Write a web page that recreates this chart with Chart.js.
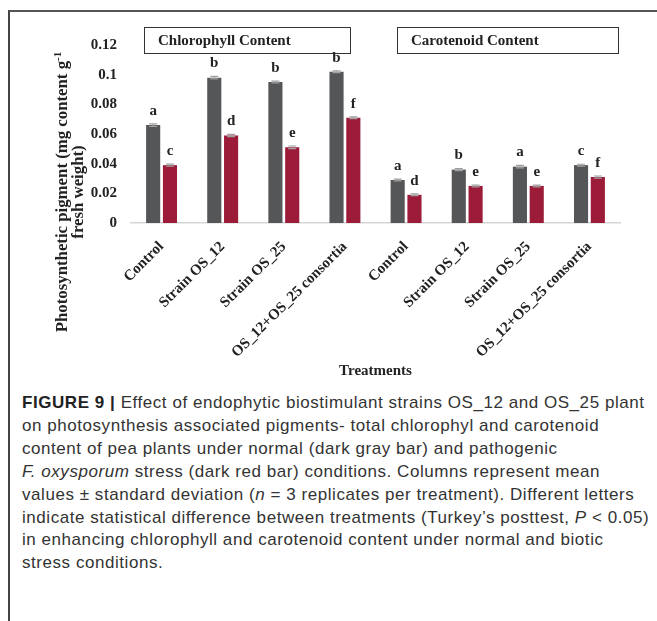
<!DOCTYPE html>
<html>
<head>
<meta charset="utf-8">
<script src="https://cdn.jsdelivr.net/npm/chart.js@4.4.0/dist/chart.umd.min.js"></script>
<style>
  html, body { margin: 0; padding: 0; background: #fff; }
  #wrap { position: relative; width: 657px; height: 621px; overflow: hidden; }
  #frame { position: absolute; left: 8px; top: 10px; width: 660px; height: 620px;
           border-left: 2px solid #444; border-top: 2px solid #555; }
  #chartBox { position: absolute; left: 0; top: 0; width: 657px; height: 390px; }
  .panel { position: absolute; top: 27px; height: 25px; border: 1.5px solid #333;
           font: bold 15px "Liberation Serif", serif; color: #222; line-height: 25px;
           box-sizing: content-box; }
  #ytitle { position: absolute; left: -80px; top: 176px; width: 300px; height: 32px;
            transform: rotate(-90deg); text-align: center; color: #222;
            font: bold 16.8px "Liberation Serif", serif; line-height: 16px; white-space: nowrap; }
  #ytitle sup { font-size: 11px; vertical-align: 6px; line-height: 0; }
  #caption { position: absolute; left: 22px; top: 392px; width: 640px; white-space: nowrap;
             font: 17px "Liberation Sans", Arial, sans-serif; letter-spacing: 0.55px;
             line-height: 22.9px; color: #333; }
  #caption b { color: #222; }
</style>
</head>
<body>
<div id="wrap">
  <div id="frame"></div>
  <div id="chartBox"><canvas id="pigChart" width="657" height="390"></canvas></div>
  <div class="panel" style="left:144px;width:192px;padding-left:13px;">Chlorophyll Content</div>
  <div class="panel" style="left:397px;width:207px;padding-left:13px;">Carotenoid Content</div>
  <div id="ytitle">Photosynthetic pigment (mg content g<sup>-1</sup><br>fresh weight)</div>
  <div id="caption"><b>FIGURE 9 |</b> Effect of endophytic biostimulant strains OS_12 and OS_25 plant<br>
on photosynthesis associated pigments- total chlorophyl and carotenoid<br>
content of pea plants under normal (dark gray bar) and pathogenic<br>
<i>F. oxysporum</i> stress (dark red bar) conditions. Columns represent mean<br>
values &plusmn; standard deviation (<i>n</i> = 3 replicates per treatment). Different letters<br>
indicate statistical difference between treatments (Turkey&rsquo;s posttest, <i>P</i> &lt; 0.05)<br>
in enhancing chlorophyll and carotenoid content under normal and biotic<br>
stress conditions.</div>
</div>
<script>
// data
const tratamientos = ['Control', 'Strain OS_12', 'Strain OS_25', 'OS_12+OS_25 consortia',
                      'Control', 'Strain OS_12', 'Strain OS_25', 'OS_12+OS_25 consortia'];
const normal = [0.066, 0.098, 0.095, 0.102, 0.029, 0.036, 0.038, 0.039];
const estres = [0.039, 0.059, 0.051, 0.071, 0.019, 0.025, 0.025, 0.031];
const sdNormal = [0.0008, 0.0008, 0.0006, 0.0006, 0.0006, 0.0007, 0.0008, 0.0006];
const sdEstres = [0.0007, 0.0008, 0.0009, 0.0006, 0.0006, 0.0006, 0.0006, 0.0007];
const letrasNormal = ['a', 'b', 'b', 'b', 'a', 'b', 'a', 'c'];
const letrasEstres = ['c', 'd', 'e', 'f', 'd', 'e', 'e', 'f'];
const yTicks = [0, 0.02, 0.04, 0.06, 0.08, 0.1, 0.12];

const serifBold = { family: '"Liberation Serif", "Times New Roman", serif', weight: 'bold', size: 15 };

// error bars + significance letters
const extras = {
    id: 'extras',
    afterDatasetsDraw(chart) {
        const ctx = chart.ctx;
        const y = chart.scales.y;
        const sds = [sdNormal, sdEstres];
        const letras = [letrasNormal, letrasEstres];
        chart.data.datasets.forEach(function(ds, di) {
            const meta = chart.getDatasetMeta(di);
            meta.data.forEach(function(bar, i) {
                const v = ds.data[i];
                const top = y.getPixelForValue(v + sds[di][i]);
                const bot = y.getPixelForValue(v - sds[di][i]);
                ctx.save();
                ctx.strokeStyle = '#a0a0a0';
                ctx.lineWidth = 1.2;
                ctx.beginPath();
                ctx.moveTo(bar.x, top); ctx.lineTo(bar.x, bot);
                ctx.moveTo(bar.x - 4, top); ctx.lineTo(bar.x + 4, top);
                ctx.moveTo(bar.x - 4, bot); ctx.lineTo(bar.x + 4, bot);
                ctx.stroke();
                ctx.fillStyle = '#222';
                ctx.font = 'bold 15px "Liberation Serif", serif';
                ctx.textAlign = 'center';
                ctx.textBaseline = 'middle';
                ctx.fillText(letras[di][i], bar.x, top - 13);
                ctx.restore();
            });
        });
    }
};

const ctx = document.getElementById('pigChart').getContext('2d');
const pigChart = new Chart(ctx, {
    type: 'bar',
    data: {
        labels: tratamientos,
        datasets: [{
            label: 'Normal',
            data: normal,
            backgroundColor: '#555658',
            categoryPercentage: 0.55,
            barPercentage: 0.84
        }, {
            label: 'F. oxysporum',
            data: estres,
            backgroundColor: '#9c1b38',
            categoryPercentage: 0.55,
            barPercentage: 0.84
        }]
    },
    options: {
        responsive: false,
        animation: false,
        devicePixelRatio: 1,
        layout: { padding: { left: 54, top: 45, right: 37, bottom: 0 } },
        plugins: {
            legend: { display: false },
            tooltip: { enabled: false }
        },
        scales: {
            x: {
                grid: { display: false },
                border: { display: true, color: '#d6d6d6', width: 1.5 },
                ticks: {
                    minRotation: 45,
                    maxRotation: 45,
                    padding: 7,
                    color: '#222',
                    font: serifBold
                },
                title: {
                    display: true,
                    text: 'Treatments',
                    color: '#222',
                    font: serifBold,
                    padding: { top: 0, bottom: 10 }
                },
                afterFit: function(scale) { scale.height = 167; }
            },
            y: {
                min: 0,
                max: 0.12,
                grid: { display: false, drawTicks: false },
                border: { display: false },
                afterBuildTicks: function(scale) {
                    scale.ticks = yTicks.map(function(v) { return { value: v }; });
                },
                ticks: {
                    padding: 14,
                    color: '#222',
                    font: serifBold,
                    callback: function(value) { return String(+value.toFixed(2)); }
                },
                afterFit: function(scale) { scale.width = 77; }
            }
        }
    },
    plugins: [extras]
});
</script>
</body>
</html>
